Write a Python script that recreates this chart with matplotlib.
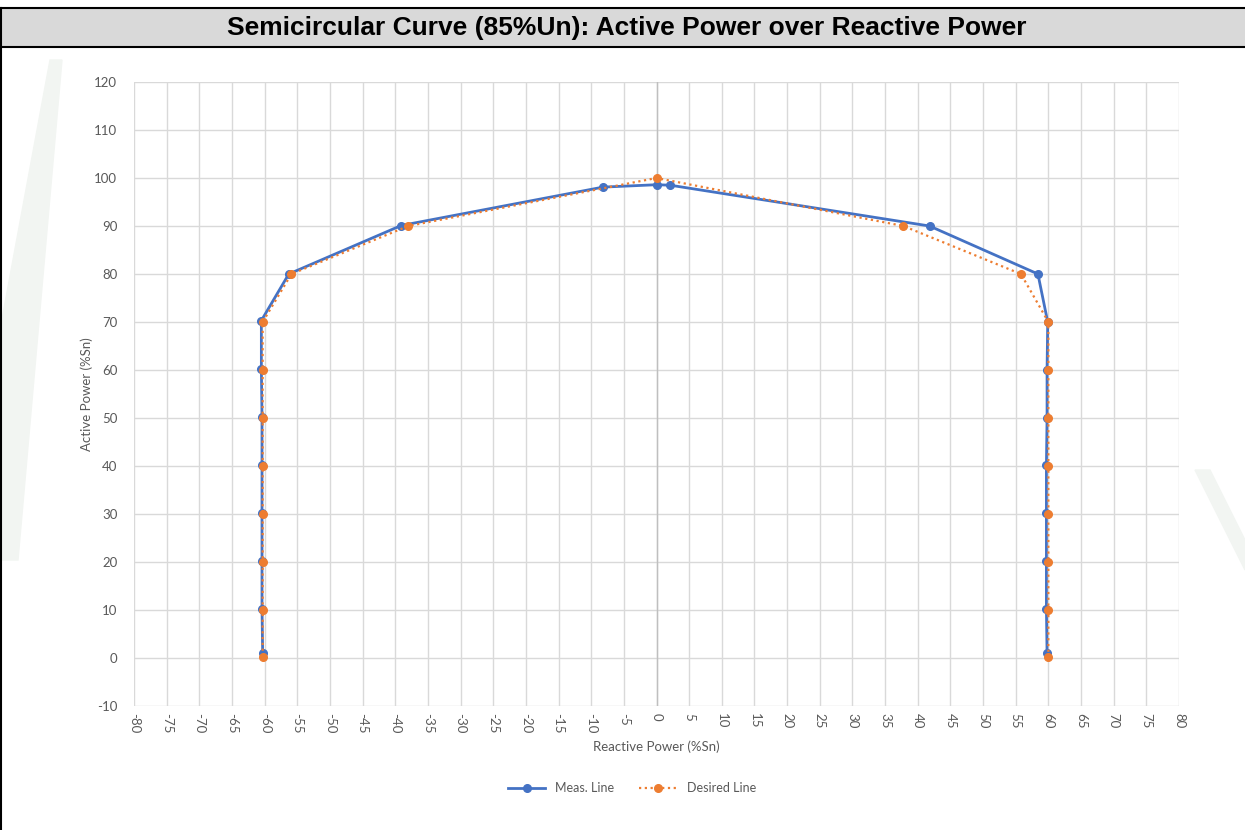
import matplotlib.pyplot as plt
from matplotlib.patches import Rectangle, Polygon
from matplotlib.lines import Line2D
import numpy as np

meas_q = [-60.3, -60.4, -60.4, -60.4, -60.4, -60.4, -60.5, -60.5, -56.3, -39.1,
          -8.2, 0.0, 2.1, 41.8, 58.4, 59.9, 59.8, 59.8, 59.7, 59.7, 59.7, 59.7, 59.8]
meas_p = [1.0, 10.2, 20.3, 30.3, 40.3, 50.3, 60.3, 70.3, 80.0, 90.1,
          98.1, 98.6, 98.5, 90.0, 80.0, 70.0, 60.0, 50.0, 40.2, 30.3, 20.3, 10.2, 1.0]

# desired curve (orange)
des_q = [-60.3, -60.3, -60.3, -60.3, -60.3, -60.3, -60.3, -60.3, -55.9, -38.0,
         0.0, 37.8, 55.8, 60.0, 60.0, 60.0, 60.0, 60.0, 60.0, 60.0, 60.0]
des_p = [0.3, 10, 20, 30, 40, 50, 60, 70, 80, 90,
         100, 90, 80, 70, 60, 50, 40, 30, 20, 10, 0.3]

title = 'Semicircular Curve (85%Un): Active Power over Reactive Power'
blue = '#4472C4'
orange = '#ED7D31'
grey_txt = '#595959'

plt.rcParams['font.family'] = ['Lato', 'DejaVu Sans']
plt.rcParams['axes.unicode_minus'] = False

W, H = 1245, 830
fig = plt.figure(figsize=(W / 100, H / 100), dpi=100)

# faint watermark shapes outside the plot area
wm = '#f2f5f2'
fig.patches.append(Polygon([(0, 1 - 330 / H), (0, 1 - 560 / H), (18 / W, 1 - 560 / H),
                            (62 / W, 1 - 60 / H), (50 / W, 1 - 60 / H)],
                           closed=True, transform=fig.transFigure, color=wm, zorder=0))
fig.patches.append(Polygon([(1195 / W, 1 - 470 / H), (1210 / W, 1 - 470 / H),
                            (1245 / W, 1 - 540 / H), (1245 / W, 1 - 570 / H)],
                           closed=True, transform=fig.transFigure, color=wm, zorder=0))

# title bar
y0, y1 = 1 - 47 / H, 1 - 8 / H
fig.patches.append(Rectangle((0, y0), 1, y1 - y0, transform=fig.transFigure,
                             facecolor='#d9d9d9', edgecolor='none', zorder=1))
fig.add_artist(Line2D([0, 1], [y1, y1], transform=fig.transFigure, color='black', lw=1.5))
fig.add_artist(Line2D([0, 1], [y0, y0], transform=fig.transFigure, color='black', lw=1.5))
fig.add_artist(Line2D([1 / W, 1 / W], [0, y1], transform=fig.transFigure, color='black', lw=1.5))
fig.text(627 / W, (y0 + y1) / 2, title, ha='center', va='center',
         family='Liberation Sans', fontweight='bold', fontsize=19)

ax = fig.add_axes([134 / W, 1 - 706 / H, (1179 - 134) / W, (706 - 82) / H])
ax.set_facecolor('none')
ax.set_xlim(-80, 80)
ax.set_ylim(-10, 120)
ax.set_xticks(np.arange(-80, 81, 5))
ax.set_yticks(np.arange(-10, 121, 10))
ax.grid(True, color='#d9d9d9', lw=1)
ax.set_axisbelow(True)
for s in ax.spines.values():
    s.set_visible(False)
ax.axvline(0, color='#bfbfbf', lw=1, zorder=1)
ax.tick_params(length=0, colors=grey_txt, labelsize=9.5)
ax.tick_params(axis='y', pad=12)
ax.tick_params(axis='x', pad=5)
for lab in ax.get_xticklabels():
    lab.set_rotation(-90)

ax.plot(meas_q, meas_p, color=blue, lw=2, marker='o', ms=5.5, label='Meas. Line', zorder=3)
ax.plot(des_q, des_p, color=orange, lw=1.6, ls=(0, (1, 1.6)), marker='o', ms=5.5,
        label='Desired Line', zorder=4)

ax.set_xlabel('Reactive Power (%Sn)', color=grey_txt, fontsize=9.5, labelpad=5)
ax.set_ylabel('Active Power (%Sn)', color=grey_txt, fontsize=9.5, labelpad=1)

fig.legend(*ax.get_legend_handles_labels(), loc='center', bbox_to_anchor=(632 / W, 1 - 788 / H),
           ncol=2, frameon=False, fontsize=9, labelcolor=grey_txt, handlelength=3,
           columnspacing=2)

fig.savefig('out.png', dpi=100)
